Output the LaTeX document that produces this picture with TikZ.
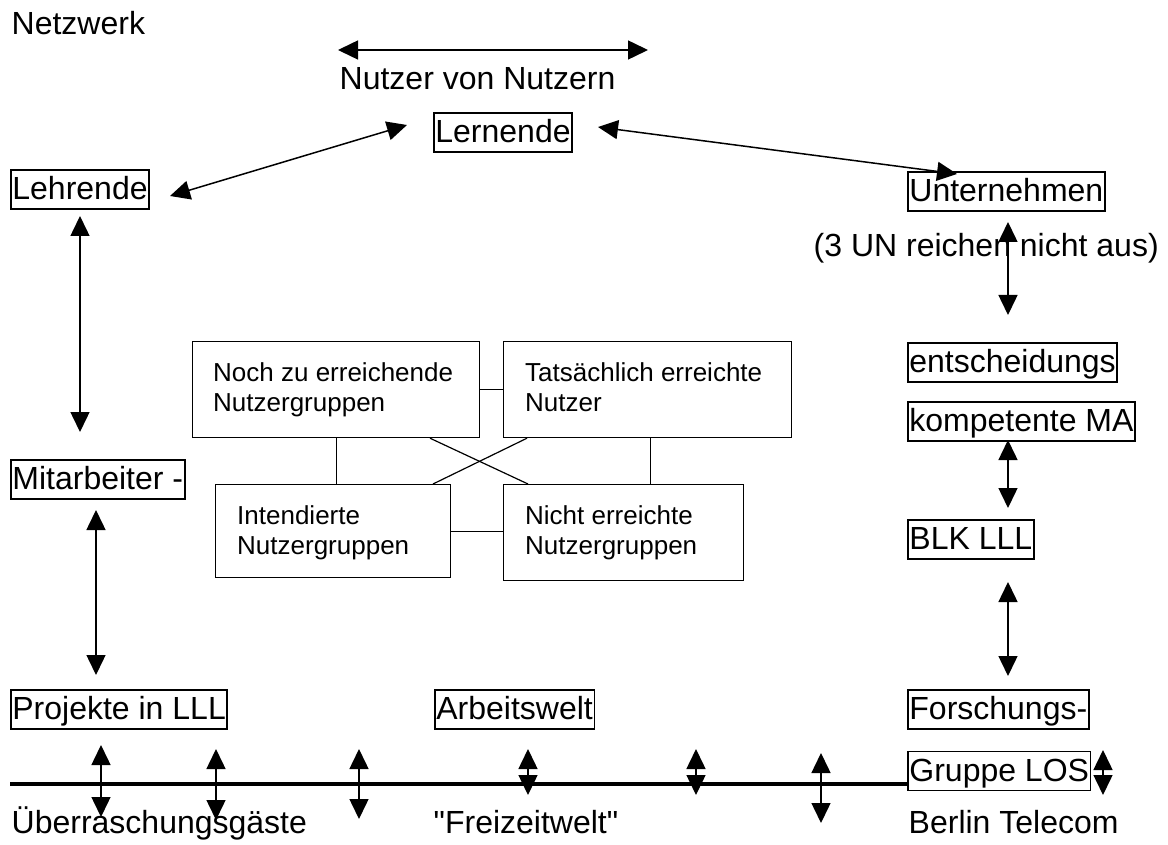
\documentclass[tikz,border=0pt]{standalone}
\usepackage{fontspec}
\setmainfont{Liberation Sans}
\newfontfamily\plainqfont[Ligatures=ResetAll]{Liberation Sans}
\usetikzlibrary{arrows.meta,calc}
\begin{document}
\begin{tikzpicture}[x=1pt,y=-1pt,
  big/.style={font=\fontsize{32}{38}\selectfont, inner xsep=1.5pt, inner ysep=1.5pt, text height=28pt, text depth=8pt, anchor=west},
  bbox/.style={big, draw, line width=1.8pt},
  sbox/.style={draw, line width=1.2pt, anchor=north west, inner sep=0pt},
  stext/.style={font=\fontsize{26}{30}\selectfont, align=left, anchor=north west, inner sep=0pt},
  arr/.style={{Triangle[length=20pt,width=19pt]}-{Triangle[length=20pt,width=19pt]}, line width=1.5pt},
  link/.style={line width=1.2pt},
  base/.style={line width=3.5pt}]
\useasboundingbox (0,0) rectangle (1168,845);

% plain texts
\node[big] (net) at (10,25) {Netzwerk};
\node[big] (nvn) at (338,80) {Nutzer von Nutzern};
\node[big] (un3) at (812,247) {(3 UN reichen nicht aus)};
\node[big] (ueb) at (10,823) {Überraschungsgäste};
\node[big, font=\plainqfont\fontsize{32}{38}\selectfont] (frei) at (432,823) {"Freizeitwelt"};
\node[big] (bt) at (907,823) {Berlin Telecom};

% boxed texts
\node[bbox] (lern) at (433,132.5) {Lernende};
\node[bbox] (lehr) at (10,189.5) {Lehrende};
\node[bbox] (unt) at (907,191.5) {Unternehmen};
\node[bbox] (ents) at (907,362.5) {entscheidungs};
\node[bbox] (komp) at (907,421.5) {kompetente MA};
\node[bbox] (blk) at (907,539.5) {BLK LLL};
\node[bbox] (mit) at (10,479.5) {Mitarbeiter -};
\node[bbox] (proj) at (10,709.5) {Projekte in LLL};
\node[bbox] (arb) at (434,709.5) {Arbeitswelt};
\node[bbox] (fors) at (907,709.5) {Forschungs-};
\node[bbox] (grp) at (907,771) {Gruppe LOS};

% central boxes
\node[sbox, minimum width=287pt, minimum height=96pt] (A) at (192,341) {};
\node[sbox, minimum width=288pt, minimum height=96pt] (B) at (503,341) {};
\node[sbox, minimum width=235pt, minimum height=93pt] (C) at (215,484) {};
\node[sbox, minimum width=240pt, minimum height=96pt] (D) at (503,484) {};
\node[stext] (At) at ($(A.north west)+(21,21)$) {Noch zu erreichende\\Nutzergruppen};
\node[stext] (Bt) at ($(B.north west)+(22,21)$) {Tatsächlich erreichte\\Nutzer};
\node[stext] (Ct) at ($(C.north west)+(22,21)$) {Intendierte\\Nutzergruppen};
\node[stext] (Dt) at ($(D.north west)+(22,21)$) {Nicht erreichte\\Nutzergruppen};

\draw[link] (A.east) -- (A.east -| B.west);
\draw[link] (A.south) -- (A.south |- C.north);
\draw[link] (B.south) ++(3,0) coordinate (bs) -- (bs |- D.north);
\draw[link] (C.east) -- (C.east -| D.west);
\draw[link] ($(A.south west)+(238,0)$) -- ($(D.north west)+(25,0)$);
\draw[link] ($(B.south west)+(24,0)$) -- ($(C.north west)+(218,0)$);

% arrow end points
\coordinate (t1) at (338,50); \coordinate (t2) at (648,50);
\coordinate (ll1) at (407,125); \coordinate (ll2) at (170,196);
\coordinate (lu1) at (598,127); \coordinate (lu2) at (957,174);
\coordinate (lm1) at (80,216); \coordinate (lm2) at (80,432);
\coordinate (mp1) at (96,510); \coordinate (mp2) at (96,675);
\coordinate (r11) at (1008,222); \coordinate (r12) at (1008,315);
\coordinate (r21) at (1008,440); \coordinate (r22) at (1008,508);
\coordinate (r31) at (1008,582); \coordinate (r32) at (1008,676);
\coordinate (b11) at (101,745); \coordinate (b12) at (101,817);
\coordinate (b21) at (216,749); \coordinate (b22) at (216,820);
\coordinate (b31) at (359,749); \coordinate (b32) at (359,819);
\coordinate (b41) at (528,749); \coordinate (b42) at (528,795);
\coordinate (b51) at (696,749); \coordinate (b52) at (696,795);
\coordinate (b61) at (821,753); \coordinate (b62) at (821,823);
\coordinate (b71) at (1103,750); \coordinate (b72) at (1103,795);
\coordinate (l1) at (10,784);

\draw[base] (l1) -- (l1 -| grp.west);

\draw[arr] (t1) -- (t2);
\draw[arr] (ll1) -- (ll2);
\draw[arr] (lu1) -- (lu2);
\draw[arr] (lm1) -- (lm2);
\draw[arr] (mp1) -- (mp2);
\draw[arr] (r11) -- (r12);
\draw[arr] (r21) -- (r22);
\draw[arr] (r31) -- (r32);
\draw[arr] (b11) -- (b12);
\draw[arr] (b21) -- (b22);
\draw[arr] (b31) -- (b32);
\draw[arr] (b41) -- (b42);
\draw[arr] (b51) -- (b52);
\draw[arr] (b61) -- (b62);
\draw[arr] (b71) -- (b72);
\end{tikzpicture}
\end{document}
